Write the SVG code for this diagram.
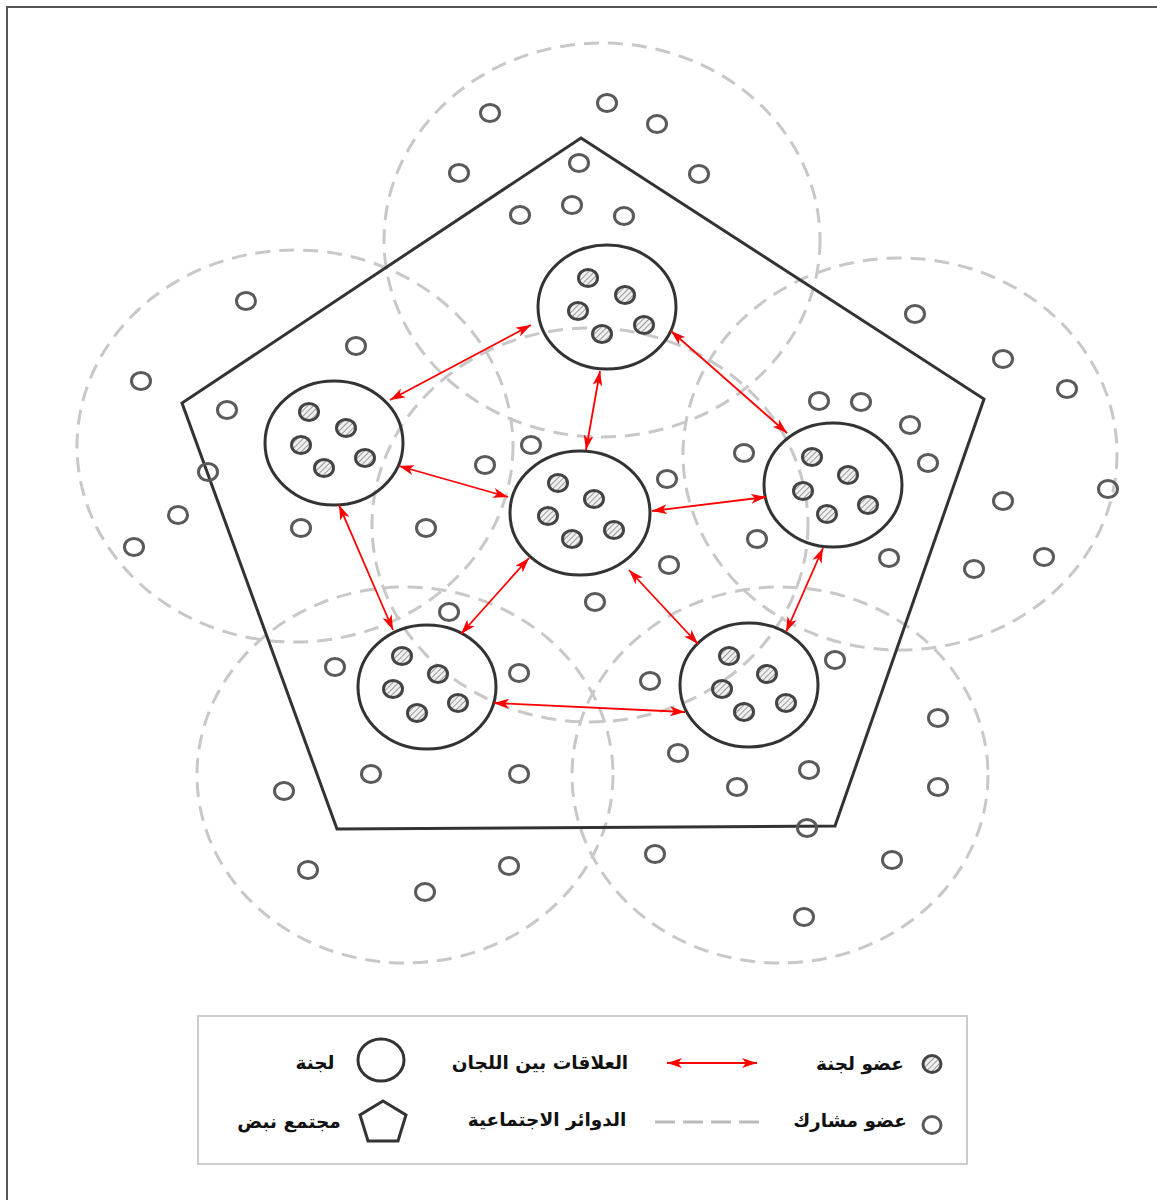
<svg xmlns="http://www.w3.org/2000/svg" width="1157" height="1200" viewBox="0 0 1157 1200">
<style>
.social{fill:none;stroke:#c8c8c8;stroke-width:3;stroke-dasharray:15 9}
.pent{fill:none;stroke:#333;stroke-width:3;stroke-linejoin:miter}
.comm{fill:none;stroke:#333;stroke-width:3}
.mem{fill:url(#hatch);stroke:#444;stroke-width:3}
.part{fill:none;stroke:#5a5a5a;stroke-width:3}
.rel{stroke:#ff0000;stroke-width:1.8;fill:none;marker-start:url(#ah);marker-end:url(#ah)}
.lbl{font-family:"DejaVu Sans",sans-serif;font-size:18.5px;font-weight:bold;fill:#111;text-anchor:middle}
</style>
<defs>
<pattern id="hatch" width="4" height="4" patternUnits="userSpaceOnUse" patternTransform="rotate(45)">
<rect width="4" height="4" fill="#f0f0f0"/>
<line x1="0" y1="0" x2="0" y2="4" stroke="#9a9a9a" stroke-width="2"/>
</pattern>
<marker id="ah" viewBox="-15 -5 16 10" markerWidth="16" markerHeight="10" refX="0" refY="0" orient="auto-start-reverse" markerUnits="userSpaceOnUse">
<path d="M0,0 L-15,-5 L-11,0 L-15,5 Z" fill="#ff0000"/>
</marker>
</defs>
<rect x="0" y="0" width="1157" height="1200" fill="#fff"/>
<rect x="7" y="7" width="1200" height="1250" fill="none" stroke="#555" stroke-width="2"/>

<g id="social-circles">
<ellipse class="social" cx="602" cy="240" rx="218" ry="197"/>
<ellipse class="social" cx="295" cy="446" rx="218" ry="196"/>
<ellipse class="social" cx="900" cy="454" rx="217" ry="196"/>
<ellipse class="social" cx="405" cy="775" rx="208" ry="188"/>
<ellipse class="social" cx="780" cy="775" rx="208" ry="188"/>
<ellipse class="social" cx="590" cy="525" rx="218" ry="197"/>
</g>

<g id="pulse-community">
<polygon class="pent" points="581,138 984,399 835,826 337,829 182,403"/>
</g>

<g id="participants">
<ellipse class="part" cx="490" cy="113" rx="9.5" ry="8.5"/>
<ellipse class="part" cx="607" cy="103" rx="9.5" ry="8.5"/>
<ellipse class="part" cx="657" cy="124" rx="9.5" ry="8.5"/>
<ellipse class="part" cx="459" cy="173" rx="9.5" ry="8.5"/>
<ellipse class="part" cx="579" cy="163" rx="9.5" ry="8.5"/>
<ellipse class="part" cx="699" cy="174" rx="9.5" ry="8.5"/>
<ellipse class="part" cx="520" cy="215" rx="9.5" ry="8.5"/>
<ellipse class="part" cx="572" cy="205" rx="9.5" ry="8.5"/>
<ellipse class="part" cx="624" cy="216" rx="9.5" ry="8.5"/>
<ellipse class="part" cx="246" cy="301" rx="9.5" ry="8.5"/>
<ellipse class="part" cx="356" cy="346" rx="9.5" ry="8.5"/>
<ellipse class="part" cx="141" cy="381" rx="9.5" ry="8.5"/>
<ellipse class="part" cx="227" cy="410" rx="9.5" ry="8.5"/>
<ellipse class="part" cx="208" cy="472" rx="9.5" ry="8.5"/>
<ellipse class="part" cx="485" cy="465" rx="9.5" ry="8.5"/>
<ellipse class="part" cx="531" cy="445" rx="9.5" ry="8.5"/>
<ellipse class="part" cx="178" cy="515" rx="9.5" ry="8.5"/>
<ellipse class="part" cx="134" cy="547" rx="9.5" ry="8.5"/>
<ellipse class="part" cx="301" cy="528" rx="9.5" ry="8.5"/>
<ellipse class="part" cx="426" cy="528" rx="9.5" ry="8.5"/>
<ellipse class="part" cx="915" cy="314" rx="9.5" ry="8.5"/>
<ellipse class="part" cx="1003" cy="359" rx="9.5" ry="8.5"/>
<ellipse class="part" cx="1067" cy="389" rx="9.5" ry="8.5"/>
<ellipse class="part" cx="819" cy="401" rx="9.5" ry="8.5"/>
<ellipse class="part" cx="861" cy="402" rx="9.5" ry="8.5"/>
<ellipse class="part" cx="910" cy="425" rx="9.5" ry="8.5"/>
<ellipse class="part" cx="744" cy="453" rx="9.5" ry="8.5"/>
<ellipse class="part" cx="667" cy="479" rx="9.5" ry="8.5"/>
<ellipse class="part" cx="928" cy="463" rx="9.5" ry="8.5"/>
<ellipse class="part" cx="1003" cy="501" rx="9.5" ry="8.5"/>
<ellipse class="part" cx="1108" cy="489" rx="9.5" ry="8.5"/>
<ellipse class="part" cx="757" cy="539" rx="9.5" ry="8.5"/>
<ellipse class="part" cx="669" cy="565" rx="9.5" ry="8.5"/>
<ellipse class="part" cx="889" cy="558" rx="9.5" ry="8.5"/>
<ellipse class="part" cx="974" cy="569" rx="9.5" ry="8.5"/>
<ellipse class="part" cx="1044" cy="557" rx="9.5" ry="8.5"/>
<ellipse class="part" cx="449" cy="612" rx="9.5" ry="8.5"/>
<ellipse class="part" cx="595" cy="602" rx="9.5" ry="8.5"/>
<ellipse class="part" cx="335" cy="667" rx="9.5" ry="8.5"/>
<ellipse class="part" cx="519" cy="673" rx="9.5" ry="8.5"/>
<ellipse class="part" cx="371" cy="774" rx="9.5" ry="8.5"/>
<ellipse class="part" cx="519" cy="774" rx="9.5" ry="8.5"/>
<ellipse class="part" cx="284" cy="791" rx="9.5" ry="8.5"/>
<ellipse class="part" cx="308" cy="870" rx="9.5" ry="8.5"/>
<ellipse class="part" cx="425" cy="892" rx="9.5" ry="8.5"/>
<ellipse class="part" cx="509" cy="866" rx="9.5" ry="8.5"/>
<ellipse class="part" cx="835" cy="660" rx="9.5" ry="8.5"/>
<ellipse class="part" cx="650" cy="681" rx="9.5" ry="8.5"/>
<ellipse class="part" cx="678" cy="753" rx="9.5" ry="8.5"/>
<ellipse class="part" cx="809" cy="770" rx="9.5" ry="8.5"/>
<ellipse class="part" cx="737" cy="787" rx="9.5" ry="8.5"/>
<ellipse class="part" cx="938" cy="718" rx="9.5" ry="8.5"/>
<ellipse class="part" cx="938" cy="787" rx="9.5" ry="8.5"/>
<ellipse class="part" cx="807" cy="828" rx="9.5" ry="8.5"/>
<ellipse class="part" cx="655" cy="854" rx="9.5" ry="8.5"/>
<ellipse class="part" cx="892" cy="860" rx="9.5" ry="8.5"/>
<ellipse class="part" cx="804" cy="917" rx="9.5" ry="8.5"/>
</g>

<g id="committee-top">
<ellipse class="comm" cx="607" cy="307" rx="69" ry="62"/>
<ellipse class="mem" cx="588" cy="278" rx="9.5" ry="8.5"/>
<ellipse class="mem" cx="625" cy="295" rx="9.5" ry="8.5"/>
<ellipse class="mem" cx="578" cy="311" rx="9.5" ry="8.5"/>
<ellipse class="mem" cx="644" cy="325" rx="9.5" ry="8.5"/>
<ellipse class="mem" cx="602" cy="334" rx="9.5" ry="8.5"/>
</g>
<g id="committee-left">
<ellipse class="comm" cx="334" cy="443" rx="69" ry="62"/>
<ellipse class="mem" cx="309" cy="412" rx="9.5" ry="8.5"/>
<ellipse class="mem" cx="346" cy="428" rx="9.5" ry="8.5"/>
<ellipse class="mem" cx="301" cy="445" rx="9.5" ry="8.5"/>
<ellipse class="mem" cx="365" cy="458" rx="9.5" ry="8.5"/>
<ellipse class="mem" cx="324" cy="468" rx="9.5" ry="8.5"/>
</g>
<g id="committee-center">
<ellipse class="comm" cx="580" cy="513" rx="70" ry="62"/>
<ellipse class="mem" cx="558" cy="483" rx="9.5" ry="8.5"/>
<ellipse class="mem" cx="594" cy="499" rx="9.5" ry="8.5"/>
<ellipse class="mem" cx="548" cy="516" rx="9.5" ry="8.5"/>
<ellipse class="mem" cx="614" cy="530" rx="9.5" ry="8.5"/>
<ellipse class="mem" cx="572" cy="539" rx="9.5" ry="8.5"/>
</g>
<g id="committee-right">
<ellipse class="comm" cx="833" cy="485" rx="69" ry="62"/>
<ellipse class="mem" cx="812" cy="457" rx="9.5" ry="8.5"/>
<ellipse class="mem" cx="848" cy="475" rx="9.5" ry="8.5"/>
<ellipse class="mem" cx="803" cy="491" rx="9.5" ry="8.5"/>
<ellipse class="mem" cx="868" cy="505" rx="9.5" ry="8.5"/>
<ellipse class="mem" cx="827" cy="514" rx="9.5" ry="8.5"/>
</g>
<g id="committee-bottom-left">
<ellipse class="comm" cx="427" cy="687" rx="69" ry="62"/>
<ellipse class="mem" cx="402" cy="656" rx="9.5" ry="8.5"/>
<ellipse class="mem" cx="438" cy="674" rx="9.5" ry="8.5"/>
<ellipse class="mem" cx="393" cy="689" rx="9.5" ry="8.5"/>
<ellipse class="mem" cx="458" cy="703" rx="9.5" ry="8.5"/>
<ellipse class="mem" cx="417" cy="713" rx="9.5" ry="8.5"/>
</g>
<g id="committee-bottom-right">
<ellipse class="comm" cx="749" cy="685" rx="69" ry="62"/>
<ellipse class="mem" cx="729" cy="656" rx="9.5" ry="8.5"/>
<ellipse class="mem" cx="767" cy="674" rx="9.5" ry="8.5"/>
<ellipse class="mem" cx="722" cy="689" rx="9.5" ry="8.5"/>
<ellipse class="mem" cx="786" cy="703" rx="9.5" ry="8.5"/>
<ellipse class="mem" cx="744" cy="712" rx="9.5" ry="8.5"/>
</g>

<g id="connectors">
<line class="rel" x1="531" y1="325" x2="390" y2="400"/>
<line class="rel" x1="600" y1="371" x2="586" y2="450"/>
<line class="rel" x1="671" y1="331" x2="787" y2="433"/>
<line class="rel" x1="399" y1="466" x2="508" y2="497"/>
<line class="rel" x1="652" y1="511" x2="766" y2="497"/>
<line class="rel" x1="339" y1="505" x2="393" y2="630"/>
<line class="rel" x1="529" y1="558" x2="461" y2="634"/>
<line class="rel" x1="629" y1="570" x2="698" y2="644"/>
<line class="rel" x1="823" y1="548" x2="786" y2="632"/>
<line class="rel" x1="494" y1="703" x2="685" y2="712"/>
</g>

<g id="legend">
<rect x="198" y="1016" width="769" height="148" fill="#fff" stroke="#ccc" stroke-width="2"/>
<ellipse class="mem" cx="932" cy="1064" rx="9" ry="8.5"/>
<text class="lbl" x="860" y="1070">عضو لجنة</text>
<line class="rel" x1="667" y1="1063" x2="757" y2="1063"/>
<text class="lbl" x="540" y="1069">العلاقات بين اللجان</text>
<ellipse class="comm" cx="381" cy="1060" rx="23" ry="21"/>
<text class="lbl" x="315" y="1069">لجنة</text>
<ellipse class="part" cx="932" cy="1125" rx="9" ry="8.5"/>
<text class="lbl" x="850" y="1127">عضو مشارك</text>
<line x1="655" y1="1122" x2="765" y2="1122" stroke="#bbb" stroke-width="3" stroke-dasharray="20 8"/>
<text class="lbl" x="547" y="1126">الدوائر الاجتماعية</text>
<polygon class="pent" points="383,1101 406,1115 398,1141 368,1141 360,1115"/>
<text class="lbl" x="289" y="1128">مجتمع نبض</text>
</g>
</svg>
